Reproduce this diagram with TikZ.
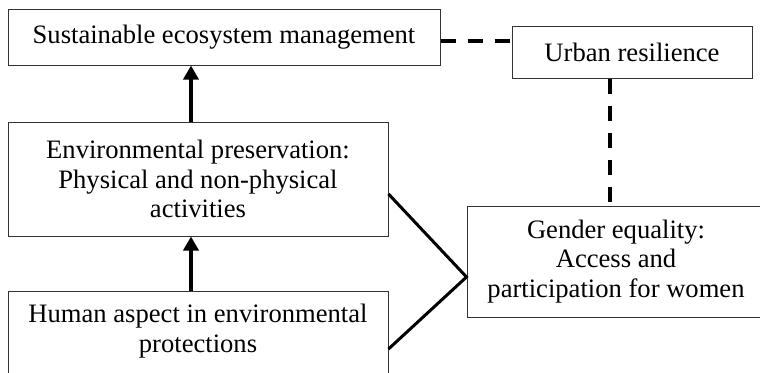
\documentclass[tikz,border=0pt]{standalone}
\usepackage{fontspec}
\setmainfont{Liberation Serif}
\usetikzlibrary{arrows.meta,calc}
\begin{document}
\begin{tikzpicture}[x=1pt,y=-1pt,
  boxst/.style={draw=black!80,line width=1pt,rectangle,inner sep=0pt,align=center,font=\fontsize{26.6}{29.5}\selectfont},
  txt/.style={inner sep=0pt,align=center,font=\fontsize{26.6}{29.5}\selectfont},
  arr/.style={line width=4pt,-{Triangle[length=14pt,width=15pt]}},
  link/.style={line width=3pt},
  dsh/.style={line width=4pt,dash pattern=on 15pt off 12pt}]
\useasboundingbox[fill=white] (0,0) rectangle (760,372);
\node[boxst,minimum width=432pt,minimum height=56pt] (sem) at (224,37) {Sustainable ecosystem management};
\node[boxst,minimum width=240pt,minimum height=52pt] (ur) at (632,52) {Urban resilience};
\node[boxst,minimum width=380pt,minimum height=114pt] (ep) at (198,179) {Environmental preservation:\\Physical and non-physical\\activities};
\node[boxst,minimum width=380pt,minimum height=109pt] (ha) at (198,345.5) {};
\node[txt] (hat) at (198,331) {Human aspect in environmental\\protections};
\node[boxst,minimum width=298pt,minimum height=111pt] (ge) at (616,261.5) {Gender equality:\\Access and\\participation for women};
\draw[arr] ([xshift=-7pt]ep.north) -- ([xshift=-7pt]ep.north |- sem.south);
\draw[arr] ([xshift=-7pt]ha.north) -- ([xshift=-7pt]ha.north |- ep.south);
\draw[link] ([yshift=-15pt]ep.east) -- ([yshift=-15.5pt]ge.west) -- ([yshift=-3.5pt]ha.east);
\draw[dsh] ([yshift=-4pt]sem.east) -- ([yshift=-4pt]sem.east -| ur.west);
\draw[dsh] ([xshift=-22pt]ur.south) -- ([xshift=-22pt]ur.south |- ge.north);
\end{tikzpicture}
\end{document}
